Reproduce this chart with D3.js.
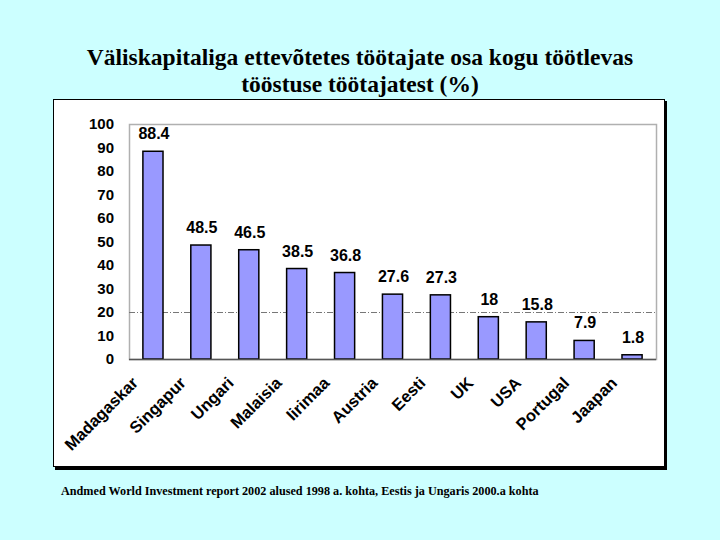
<!DOCTYPE html>
<html>
<head>
<meta charset="utf-8">
<script src="https://cdn.jsdelivr.net/npm/d3@7"></script>
<style>
  body { margin: 0; background: #ccffff; }
  svg { display: block; }
</style>
</head>
<body>
<svg id="chart" width="720" height="540"></svg>
<script>
// data
const countries = ["Madagaskar", "Singapur", "Ungari", "Malaisia", "Iirimaa", "Austria",
                   "Eesti", "UK", "USA", "Portugal", "Jaapan"];
const shares = [88.4, 48.5, 46.5, 38.5, 36.8, 27.6, 27.3, 18, 15.8, 7.9, 1.8];
const yTicks = [0, 10, 20, 30, 40, 50, 60, 70, 80, 90, 100];
const refLine = 20;
const titleLines = ["Väliskapitaliga ettevõtetes töötajate osa kogu töötlevas",
                    "tööstuse töötajatest (%)"];
const footnote = "Andmed World Investment report 2002 alused 1998 a. kohta, Eestis ja Ungaris 2000.a kohta";

// plot area
const plot = { left: 129, right: 656, top: 124, bottom: 359 };

const svg = d3.select("#chart");

// title
svg.append("text")
    .attr("x", 360)
    .attr("y", 65)
    .attr("text-anchor", "middle")
    .attr("font-family", "'Liberation Serif', 'Times New Roman', serif")
    .attr("font-weight", "bold")
    .attr("font-size", "23.5px")
    .selectAll("tspan")
    .data(titleLines)
    .enter()
    .append("tspan")
    .attr("x", 360)
    .attr("dy", (d, i) => i === 0 ? 0 : 27)
    .text(d => d);

// white panel with shadow
svg.append("rect")
    .attr("x", 55).attr("y", 101)
    .attr("width", 612).attr("height", 369)
    .attr("fill", "#000");
svg.append("rect")
    .attr("x", 53.5).attr("y", 99.5)
    .attr("width", 611).attr("height", 367)
    .attr("fill", "#fff")
    .attr("stroke", "#000")
    .attr("stroke-width", 1);

// scales
const x = d3.scaleBand()
    .domain(countries)
    .range([plot.left, plot.right])
    .paddingInner(0.58)
    .paddingOuter(0.29);

const y = d3.scaleLinear()
    .domain([0, 100])
    .range([plot.bottom, plot.top]);

// plot frame
svg.append("rect")
    .attr("x", plot.left + 0.5).attr("y", plot.top + 0.5)
    .attr("width", plot.right - plot.left).attr("height", plot.bottom - plot.top)
    .attr("fill", "none")
    .attr("stroke", "#b0b0b0")
    .attr("stroke-width", 1.5);

// reference line at 20
svg.append("line")
    .attr("x1", plot.left).attr("x2", plot.right)
    .attr("y1", y(refLine) + 0.5).attr("y2", y(refLine) + 0.5)
    .attr("stroke", "#777")
    .attr("stroke-width", 1)
    .attr("stroke-dasharray", "6,2,1,2");

// y axis
const yAxis = svg.append("g")
    .attr("transform", "translate(" + plot.left + ",0)")
    .call(d3.axisLeft(y).tickValues(yTicks).tickSize(0).tickPadding(15));
yAxis.select(".domain").remove();
yAxis.selectAll("text")
    .attr("font-family", "Arial, 'Liberation Sans', sans-serif")
    .attr("font-weight", "bold")
    .attr("font-size", "15px")
    .attr("fill", "#000");

// bars
svg.selectAll(".bar")
    .data(shares)
    .enter()
    .append("rect")
    .attr("class", "bar")
    .attr("x", (d, i) => x(countries[i]))
    .attr("y", d => y(d))
    .attr("width", x.bandwidth())
    .attr("height", d => y(0) - y(d))
    .attr("fill", "#9999ff")
    .attr("stroke", "#000")
    .attr("stroke-width", 1.5);

// x axis line
svg.append("line")
    .attr("x1", plot.left).attr("x2", plot.right)
    .attr("y1", plot.bottom + 0.5).attr("y2", plot.bottom + 0.5)
    .attr("stroke", "#555")
    .attr("stroke-width", 1.5);

// value labels
svg.selectAll(".val")
    .data(shares)
    .enter()
    .append("text")
    .attr("class", "val")
    .attr("x", (d, i) => x(countries[i]) + x.bandwidth() / 2 + 1)
    .attr("y", d => y(d) - 12)
    .attr("text-anchor", "middle")
    .attr("font-family", "Arial, 'Liberation Sans', sans-serif")
    .attr("font-weight", "bold")
    .attr("font-size", "16px")
    .text(d => d);

// category labels, rotated
svg.selectAll(".cat")
    .data(countries)
    .enter()
    .append("text")
    .attr("class", "cat")
    .attr("text-anchor", "end")
    .attr("font-family", "Arial, 'Liberation Sans', sans-serif")
    .attr("font-weight", "bold")
    .attr("font-size", "16.5px")
    .attr("transform", d =>
        "translate(" + (x(d) + x.bandwidth() / 2 - 14) + "," + (plot.bottom + 25) + ") rotate(-45)")
    .text(d => d);

// footnote
svg.append("text")
    .attr("x", 61)
    .attr("y", 495)
    .attr("font-family", "'Liberation Serif', 'Times New Roman', serif")
    .attr("font-weight", "bold")
    .attr("font-size", "12.2px")
    .text(footnote);
</script>
</body>
</html>
